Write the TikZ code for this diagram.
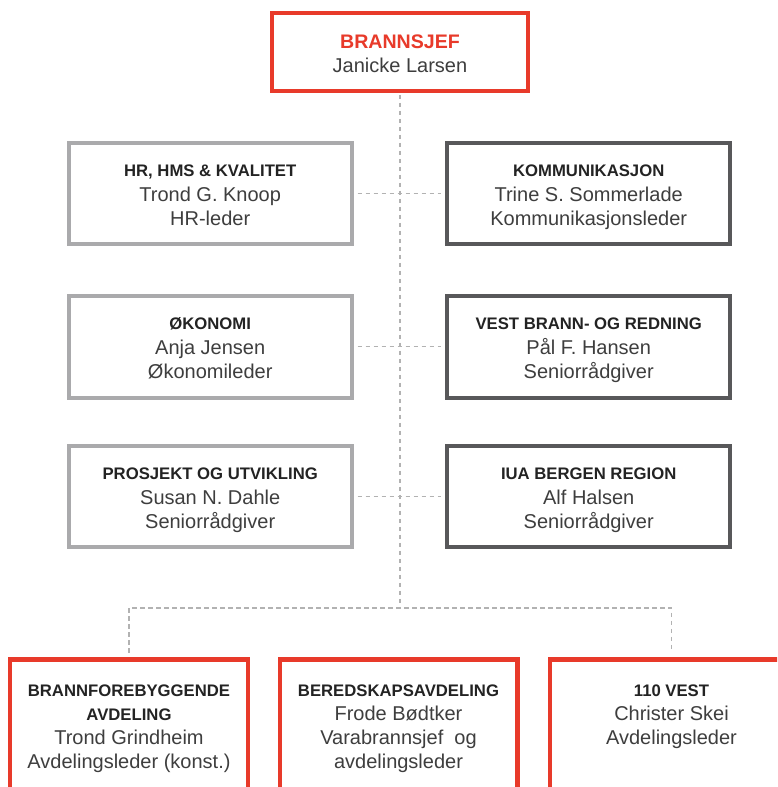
\documentclass[tikz,border=0pt]{standalone}
\usepackage{fontspec}
\setmainfont{Liberation Sans}
\definecolor{brandred}{RGB}{232,58,42}
\definecolor{boxgray}{RGB}{170,170,172}
\definecolor{boxdark}{RGB}{88,88,90}
\definecolor{linegray}{RGB}{178,178,178}
\definecolor{hdcol}{RGB}{35,35,35}
\definecolor{txtcol}{RGB}{62,62,62}
\newcommand\boxhead{\fontsize{16.7}{24}\selectfont\bfseries\color{hdcol}}
\newcommand\boxbody{\fontsize{20}{24}\selectfont\color{txtcol}}
\newcommand\topstrut{\rule{0pt}{20pt}}
\newcommand\botstrut{\rule[-6pt]{0pt}{6pt}}
\begin{document}
\begin{tikzpicture}[x=1pt,y=-1pt,
  box/.style={draw, line width=4pt, fill=white, inner sep=0pt, align=center,
    font=\fontsize{20}{24}\selectfont},
  redbox/.style={box, draw=brandred, line width=4.5pt},
  graybox/.style={box, draw=boxgray, minimum width=283pt, minimum height=101.5pt},
  darkbox/.style={box, draw=boxdark, minimum width=283.5pt, minimum height=101.5pt},
  lowbox/.style={redbox, minimum height=160pt},
  txt/.style={inner sep=0pt, align=center, font=\fontsize{20}{24}\selectfont},
  link/.style={draw=linegray, line width=1.2pt, dash pattern=on 4.5pt off 3.5pt}]
\useasboundingbox (0,0) rectangle (777,787);
\fill[white] (0,0) rectangle (777,787);
\begin{scope}
\clip (0,0) rectangle (777,787);
% top
\node[redbox, minimum width=256pt, minimum height=78pt] (root) at (400,52) {};
\node[txt] (roott) at (400,54) {{\fontsize{19.6}{24}\selectfont\bfseries\color{brandred}BRANNSJEF}\\{\boxbody Janicke Larsen}};
% row 1
\node[graybox] (hr) at (210.2,193.5) {{\boxhead\topstrut HR, HMS \& KVALITET}\\[1pt]{\boxbody Trond G. Knoop}\\{\boxbody HR-leder\botstrut}};
\node[darkbox] (komm) at (588.7,193.5) {{\boxhead\topstrut KOMMUNIKASJON}\\[1pt]{\boxbody Trine S. Sommerlade}\\{\boxbody Kommunikasjonsleder\botstrut}};
% row 2
\node[graybox] (oko) at (210.2,346.8) {{\boxhead\topstrut ØKONOMI}\\[1pt]{\boxbody Anja Jensen}\\{\boxbody Økonomileder\botstrut}};
\node[darkbox] (vest) at (588.7,346.8) {{\boxhead\topstrut VEST BRANN- OG REDNING}\\[1pt]{\boxbody Pål F. Hansen}\\{\boxbody Seniorrådgiver\botstrut}};
% row 3
\node[graybox] (pro) at (210.2,496.7) {{\boxhead\topstrut PROSJEKT OG UTVIKLING}\\[1pt]{\boxbody Susan N. Dahle}\\{\boxbody Seniorrådgiver\botstrut}};
\node[darkbox] (iua) at (588.7,496.7) {{\boxhead\topstrut IUA BERGEN REGION}\\[1pt]{\boxbody Alf Halsen}\\{\boxbody Seniorrådgiver\botstrut}};
% bottom
\node[lowbox, minimum width=238pt] (bl) at (129,739.3) {};
\node[lowbox, minimum width=237.5pt] (bm) at (398.5,739.3) {};
\node[lowbox, minimum width=243pt] (br) at (671.5,739.3) {};
\node[txt, anchor=north] (blt) at (129,685) {{\boxhead BRANNFOREBYGGENDE}\\{\boxhead AVDELING}\\{\boxbody Trond Grindheim}\\{\boxbody Avdelingsleder (konst.)}};
\node[txt, anchor=north] (bmt) at (398.5,685) {{\boxhead BEREDSKAPSAVDELING}\\{\boxbody Frode Bødtker}\\{\boxbody Varabrannsjef\ \ og}\\{\boxbody avdelingsleder}};
\node[txt, anchor=north] (brt) at (671.5,685) {{\boxhead 110 VEST}\\{\boxbody Christer Skei}\\{\boxbody Avdelingsleder}};
% connectors
\coordinate (j) at (400,608);
\coordinate (jl) at (bl.north |- j);
\coordinate (jr) at (br.north |- j);
\draw[link, shorten <=1.5pt] (root.south) -- (j);
\draw[link, shorten <=4pt, shorten >=4pt] (hr.east) -- (komm.west);
\draw[link, shorten <=4pt, shorten >=4pt] (oko.east) -- (vest.west);
\draw[link, shorten <=4pt, shorten >=4pt] (pro.east) -- (iua.west);
\draw[link, shorten <=4.5pt, shorten >=4.5pt] (bl.north) -- (jl) -- (jr) -- (br.north);
\end{scope}
\end{tikzpicture}
\end{document}
